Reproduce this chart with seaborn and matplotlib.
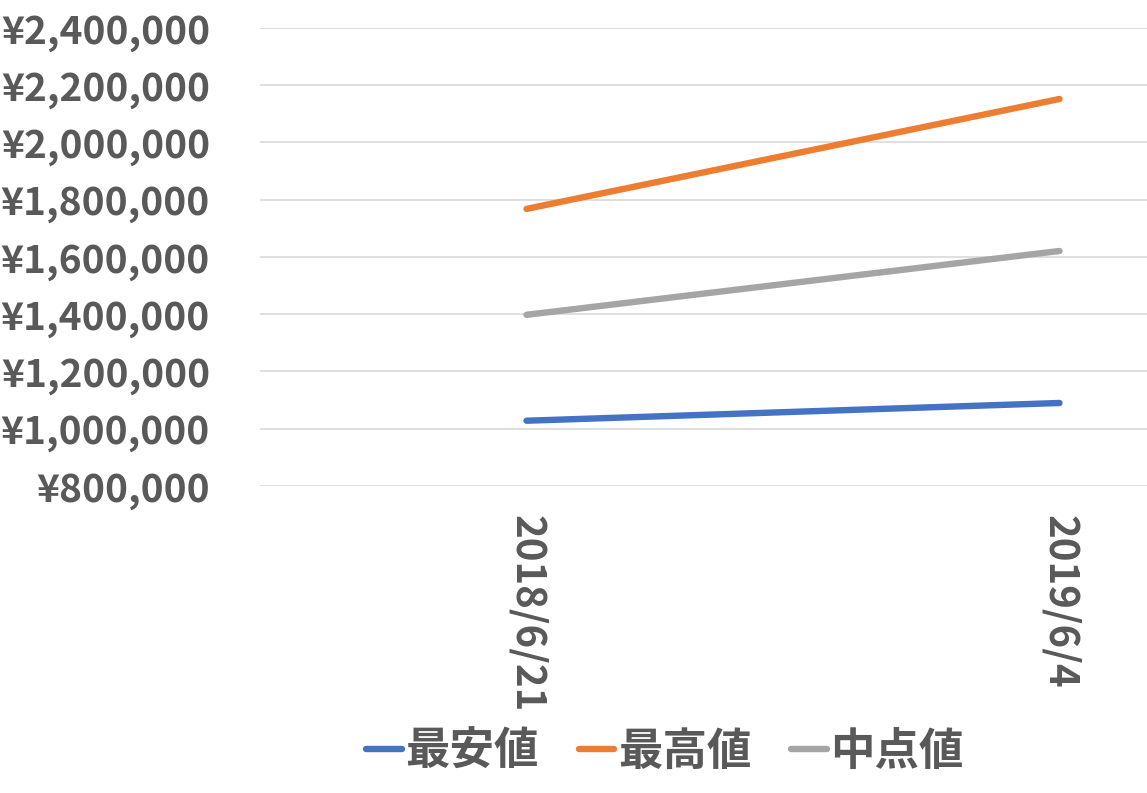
import matplotlib
matplotlib.use('Agg')
import matplotlib.pyplot as plt
import matplotlib.ticker as mticker
import seaborn as sns
import pandas as pd

# data
dates = ['2018/6/21', '2019/6/4']
low = [1028000, 1090000]
high = [1768000, 2152000]
mid = [1398000, 1621000]
series_names = ['最安値', '最高値', '中点値']
colors = ['#4472C4', '#ED7D31', '#A5A5A5']

df = pd.DataFrame({
    'date': dates * 3,
    'price': low + high + mid,
    'series': [series_names[0]] * 2 + [series_names[1]] * 2 + [series_names[2]] * 2,
})

sns.set_theme(style='white')
plt.rcParams['font.family'] = ['Noto Sans CJK JP', 'DejaVu Sans']

fig = plt.figure(figsize=(11.47, 7.93), dpi=100)
# axes extends past right edge (chart is cropped)
ax = fig.add_axes([260 / 1147, 1 - 486 / 793, 887 / 1147, 458 / 793])

sns.lineplot(data=df, x='date', y='price', hue='series', palette=colors,
             linewidth=4.6, sort=False, ax=ax, legend=False)
for ln in ax.lines:
    ln.set_solid_capstyle('round')

ax.set_xlim(-0.5, -0.5 + 887 / 533)
ax.set_ylim(800000, 2400000)
ax.yaxis.set_major_locator(mticker.MultipleLocator(200000))
ax.yaxis.set_major_formatter(mticker.FuncFormatter(lambda v, p: '¥{:,.0f}'.format(v)))
ax.grid(axis='y', color='#D9D9D9', linewidth=1.2)
ax.set_axisbelow(True)
for s in ax.spines.values():
    s.set_visible(False)
ax.set_xlabel('')
ax.set_ylabel('')
ax.tick_params(axis='y', length=0, pad=36, labelsize=28, labelcolor='#595959')
ax.tick_params(axis='x', length=0, pad=21, labelsize=29, labelcolor='#595959')
for t in ax.get_yticklabels():
    t.set_fontweight('bold')
for t in ax.get_xticklabels():
    t.set_fontweight('bold')
    t.set_rotation(-90)
    t.set_va('top')
    t.set_ha('center')

handles = [plt.Line2D([], [], color=c, linewidth=4.6, solid_capstyle='round') for c in colors]
leg = fig.legend(handles, series_names, loc='center', bbox_to_anchor=(665 / 1147, 1 - 752 / 793),
                 ncol=3, frameon=False, handlelength=0.8, handletextpad=0.08,
                 columnspacing=0.9, labelcolor='#595959', prop={'weight': 'bold', 'size': 32})

fig.savefig('out.png', dpi=100)
